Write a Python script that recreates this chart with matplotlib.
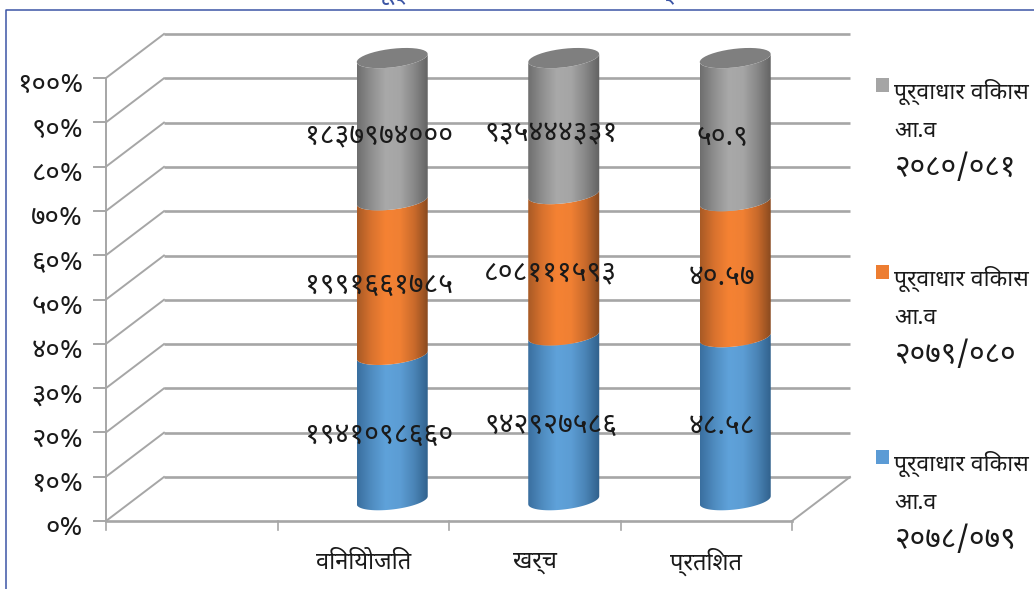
import numpy as np
import matplotlib
matplotlib.use("Agg")
import matplotlib.pyplot as plt
from matplotlib.colors import LinearSegmentedColormap
from matplotlib.patches import Polygon, Rectangle

plt.rcParams["font.family"] = ["Noto Sans Devanagari", "DejaVu Sans"]

# values (bar heights in %, as drawn)
categories = ["", "विनियोजित", "खर्च", "प्रतिशत"]
legend_lines = ["पूर्वाधार विकास", "आ.व"]
legend_years = ["२०७८/०७९", "२०७९/०८०", "२०८०/०८१"]
share_2078 = [32.8, 37.2, 36.8]
share_2079 = [34.9, 31.9, 30.7]
share_2080 = [32.1, 30.7, 32.3]
labels_2078 = ["१९४१०९८६६०", "९४२९२७५८६", "४८.५८"]
labels_2079 = ["१९९१६६१७८५", "८०८१११५९३", "४०.५७"]
labels_2080 = ["१८३७९७४०००", "९३५४४४३३१", "५०.९"]
y_ticks = [0, 10, 20, 30, 40, 50, 60, 70, 80, 90, 100]
y_tick_labels = ["०%", "१०%", "२०%", "३०%", "४०%", "५०%", "६०%", "७०%", "८०%", "९०%", "१००%"]

W, H = 1034, 589
GRID = "#a6a6a6"
TEXT = "#1a1a1a"
# depth of the 3d box in axis units
DX, DY = 0.338, 9.93
BAR_W = 0.414
BASE = 4.7
ELL_B, ELL_TILT = 2.1, 0.9

fig = plt.figure(figsize=(W / 100, H / 100), dpi=100)
ax = fig.add_axes([106 / W, 1 - 521 / H, (792 - 106) / W, (521 - 78) / H])
ax.set_xlim(0, 4)
ax.set_ylim(0, 100)
ax.axis("off")

# frame and the clipped title above it
fig.add_artist(plt.Line2D([6 / W, 6 / W, 1], [0, 1 - 9.5 / H, 1 - 9.5 / H], color="#3c55a5", lw=1.1))
fig.text(532 / W, 1 - 5 / H, "पूर्वाधार विकास बजेट तथा खर्च", color="#3c55a5", fontsize=19,
         ha="center", va="bottom")

# box: wall gridlines, side lines, axes
for v in y_ticks:
    ax.plot([DX, 4 + DX], [v + DY, v + DY], color=GRID, lw=1.9, clip_on=False, solid_capstyle="butt", zorder=1)
    ax.plot([0, DX], [v, v + DY], color=GRID, lw=1.4, clip_on=False, zorder=1)
    ax.plot([-0.07, 0], [v, v], color=GRID, lw=1.4, clip_on=False, zorder=1)
ax.plot([0, 4], [0, 0], color=GRID, lw=1.9, clip_on=False, zorder=1)
ax.plot([0, 0], [0, 100], color=GRID, lw=1.4, clip_on=False, zorder=1)
ax.plot([4, 4 + DX], [0, DY], color=GRID, lw=1.4, clip_on=False, zorder=1)
for i in range(5):
    ax.plot([i, i], [0, -2], color=GRID, lw=1.2, clip_on=False, zorder=1)

for v, lab in zip(y_ticks, y_tick_labels):
    ax.text(-0.132, v - 1.6, lab, ha="right", va="center", fontsize=20, color=TEXT, clip_on=False)
for i, lab in enumerate(categories):
    ax.text(i + 0.5, -9.3, lab, ha="center", va="center", fontsize=17, color=TEXT, clip_on=False)


def arc(cx, y, t0, t1):
    # part of the tilted ellipse
    t = np.linspace(t0, t1, 40)
    return cx + BAR_W / 2 * np.cos(t), y + ELL_TILT * np.cos(t) + ELL_B * np.sin(t)


def shade(cx, y0, y1, colors, zorder):
    # cylinder side: horizontal gradient clipped to the outline
    xa, ya = arc(cx, y0, np.pi, 2 * np.pi)
    xb, yb = arc(cx, y1, 0, -np.pi)
    pts = np.column_stack([np.r_[xa, xb], np.r_[ya, yb]])
    poly = Polygon(pts, closed=True, transform=ax.transData, fc="none", ec="none")
    ax.add_patch(poly)
    cmap = LinearSegmentedColormap.from_list("c", colors)
    img = ax.imshow(np.linspace(0, 1, 256).reshape(1, -1), cmap=cmap, aspect="auto",
                    extent=[cx - BAR_W / 2, cx + BAR_W / 2, 0, 110], zorder=zorder)
    img.set_clip_box(fig.bbox)
    img.set_clip_path(poly)


blue = ["#3a6f9f", "#4f8cc0", "#5fa2da", "#5c9dd4", "#4a84b6", "#2f5f8a"]
orange = ["#a85a25", "#d9722e", "#f58233", "#f08033", "#c96a2b", "#85481f"]
gray = ["#6e6e6e", "#8f8f8f", "#a9a9a9", "#a5a5a5", "#878787", "#616161"]
top_gray = "#7f7f7f"

for i in range(3):
    cx = i + 1.5 + DX / 2
    y1 = BASE + share_2078[i]
    y2 = y1 + share_2079[i]
    y3 = y2 + share_2080[i]
    shade(cx, BASE, y1, blue, 3)
    shade(cx, y1, y2, orange, 3)
    shade(cx, y2, y3, gray, 3)
    xt, yt = arc(cx, y3, 0, 2 * np.pi)
    ax.fill(xt, yt, color=top_gray, zorder=4, clip_on=False, lw=0)
    # data labels sit a little left of the bar centre
    for lab, y_lo, y_hi in zip((labels_2078[i], labels_2079[i], labels_2080[i]),
                               (BASE, y1, y2), (y1, y2, y3)):
        ax.text(cx - 0.076, (y_lo + y_hi) / 2 - 1.8, lab, ha="center", va="center", fontsize=20.5,
                color=TEXT, zorder=6, clip_on=False)

ax.set_xlim(0, 4)
ax.set_ylim(0, 100)

# legend, one text per line
leg_colors = ["#5b9bd5", "#ed7d31", "#a5a5a5"]
leg_y = [462, 277, 90]
for year, col, y in zip(legend_years, leg_colors, leg_y):
    fig.add_artist(Rectangle((876 / W, 1 - (y + 2) / H), 13 / W, 14 / H, transform=fig.transFigure, fc=col, ec="none"))
    fig.text(894 / W, 1 - (y + 2) / H, legend_lines[0], fontsize=16.5, color=TEXT, va="center")
    fig.text(894 / W, 1 - (y + 41) / H, legend_lines[1], fontsize=16.5, color=TEXT, va="center")
    fig.text(895 / W, 1 - (y + 78) / H, year, fontsize=21.5, color=TEXT, va="center")

fig.savefig("out.png", dpi=100)
